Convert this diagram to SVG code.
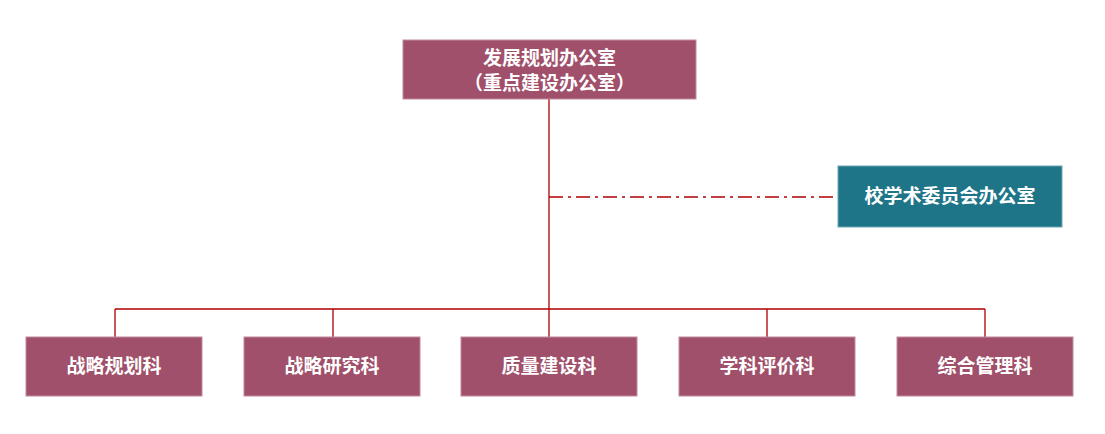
<svg xmlns="http://www.w3.org/2000/svg" width="1105" height="434" viewBox="0 0 1105 434">
<style>
.box{fill:#A0506A;stroke:#C08A9C;stroke-width:1}
.tbox{fill:#1E7588;stroke:#6FA6B3;stroke-width:1}
.t{font-family:"Noto Sans CJK SC","Noto Sans",sans-serif;font-size:19px;font-weight:bold;fill:#fff;text-anchor:middle}
.ln{stroke:#B00000;stroke-width:1.3;fill:none}
</style>
<rect width="1105" height="434" fill="#fff"/>
<g id="connectors">
<path class="ln" d="M549 99V337M115 309H985M115 309V337M333 309V337M767 309V337M985 309V337"/>
<path class="ln" d="M549 197H838" stroke-dasharray="14,5,3,5"/>
</g>
<g id="top"><rect class="box" x="403" y="40" width="293" height="59"/><text class="t" x="549.5" y="65">发展规划办公室</text><text class="t" x="549.5" y="90">（重点建设办公室）</text></g>
<g id="xsw"><rect class="tbox" x="838" y="166" width="224" height="61"/><text class="t" x="950" y="203">校学术委员会办公室</text></g>
<g id="n1"><rect class="box" x="26" y="337" width="176" height="59"/><text class="t" x="114" y="373">战略规划科</text></g>
<g id="n2"><rect class="box" x="244" y="337" width="176" height="59"/><text class="t" x="332" y="373">战略研究科</text></g>
<g id="n3"><rect class="box" x="461" y="337" width="176" height="59"/><text class="t" x="549" y="373">质量建设科</text></g>
<g id="n4"><rect class="box" x="679" y="337" width="176" height="59"/><text class="t" x="767" y="373">学科评价科</text></g>
<g id="n5"><rect class="box" x="897" y="337" width="176" height="59"/><text class="t" x="985" y="373">综合管理科</text></g>
</svg>
